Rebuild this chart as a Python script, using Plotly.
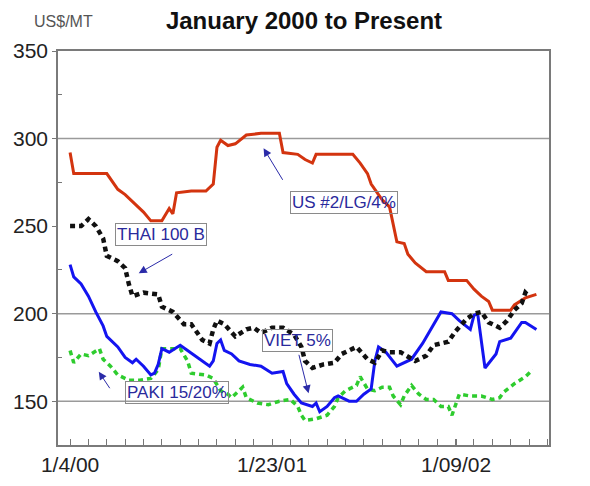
import numpy as np
import pandas as pd
import plotly.graph_objects as go

START = pd.Timestamp("2000-01-04")

# week offsets from 1/4/00 and prices (US$/MT)
us_weeks = [0,1,10,13,15,17,20,22,25,27,28,29,33,37,39,40,41,43,45,48,52,57,58,62,64,66,67,77,79,81,
            82,84,85,87,88,89,91,92,94,97,102,103,108,110,112,114,115,120,121,123,124,127]
us_vals = [292,280,280,271,268,264,258,253,253,260,257,269,270,270,274,295,299,296,297,302,303,303,292,291,288,286,291,291,286,280,
           274,268,265,261,250,241,240,234,229,224,224,219,219,214,210,207,202,202,205,208,209,211]

thai_weeks = [0,3,5,7,9,10,13,15,16,17,20,24,25,28,31,33,36,38,39,40,42,45,48,50,52,55,58,61,63,64,
              66,69,72,74,78,81,83,85,87,90,94,97,99,103,105,108,110,112,114,117,119,121,123,124,125]
thai_vals = [250,250,254,250,243,233,230,226,217,210,212,211,204,201,194,194,185,183,191,196,194,187,191,192,189,192,192,188,181,173,
             169,171,172,177,181,174,172,179,178,178,173,176,182,184,190,197,200,201,195,192,196,202,206,212,210]

viet_weeks = [0,1,3,5,7,9,10,13,15,17,18,20,22,23,24,25,27,30,32,34,36,38,39,40,41,42,44,46,49,52,
              55,58,59,61,63,66,67,68,70,72,73,76,78,80,82,83,84,86,89,92,93,96,99,101,104,106,109,110,111,113,
              116,117,120,123,124,127]
viet_vals = [228,221,217,210,201,193,187,181,175,172,174,170,165,166,171,180,178,182,179,176,173,170,173,183,185,179,177,173,171,170,
             166,167,160,154,149,147,149,144,147,152,153,150,150,154,157,173,181,178,170,173,174,183,194,201,200,196,191,199,200,169,
             177,184,186,195,195,191]

paki_weeks = [0,1,3,5,8,9,11,13,16,19,22,24,25,30,32,33,37,39,41,43,44,47,48,51,54,57,60,62,63,64,
              67,70,72,73,75,78,79,81,83,85,87,88,90,91,93,95,97,99,101,103,104,106,109,112,115,117,118,121,124,126]
paki_vals = [179,172,177,176,180,174,170,165,162,162,163,168,180,180,173,166,165,163,156,154,152,158,152,149,148,150,151,147,142,139,
             140,142,147,152,156,159,164,157,156,158,158,153,148,153,159,154,151,151,147,147,142,154,153,153,151,152,155,160,164,168]

x_tick_vals = ["2000-01-04", "2001-01-23", "2002-01-09"]
x_tick_text = ["1/4/00", "1/23/01", "1/09/02"]
y_tick_vals = [150, 200, 250, 300, 350]
grid_vals = [150, 200, 300]

labels = ["THAI 100 B", "US #2/LG/4%", "VIET 5%", "PAKI 15/20%"]

FONT = "Liberation Sans, Arial, sans-serif"
W, H = 580, 476
L, R, T, B = 50, 39, 43, 39


def dates(weeks):
    return START + pd.to_timedelta(np.array(weeks) * 7, unit="D")


fig = go.Figure()
fig.add_trace(go.Scatter(x=dates(paki_weeks), y=paki_vals, mode="lines",
                         line=dict(color="#2ecc2e", width=3.5, dash="5px,4px"), name="PAKI"))
fig.add_trace(go.Scatter(x=dates(viet_weeks), y=viet_vals, mode="lines",
                         line=dict(color="#1414f0", width=3), name="VIET"))
fig.add_trace(go.Scatter(x=dates(us_weeks), y=us_vals, mode="lines",
                         line=dict(color="#d3340f", width=3), name="US"))
fig.add_trace(go.Scatter(x=dates(thai_weeks), y=thai_vals, mode="lines",
                         line=dict(color="#111111", width=4.5, dash="5px,4px"), name="THAI"))

for g in grid_vals:
    fig.add_shape(type="line", xref="paper", x0=0, x1=1, yref="y", y0=g, y1=g,
                  line=dict(color="#9a9a9a", width=1.5), layer="below")

ann_font = dict(family=FONT, size=17, color="#2a2a9c")
boxes = [(0.2106, 0.533), (0.5815, 0.6155), (0.4883, 0.264), (0.2425, 0.1332)]
arrows = [(0.1644, 0.4358, 35, -20), (0.4187, 0.7530, 20, 33), (0.5103, 0.1312, -10, -40), (0.0830, 0.1860, 12, 18)]
for (bx, by), txt in zip(boxes, labels):
    fig.add_annotation(x=bx, y=by, xref="paper", yref="paper", text=txt, showarrow=False,
                       font=ann_font, bordercolor="#8a8a8a", borderwidth=1, borderpad=1,
                       xanchor="center", yanchor="middle")
for hx, hy, ax, ay in arrows:
    fig.add_annotation(x=hx, y=hy, xref="paper", yref="paper", text="", showarrow=True,
                       ax=ax, ay=ay, arrowhead=2, arrowsize=1.6, arrowwidth=1, arrowcolor="#2a2aa8")

plot_w = W - L - R
plot_h = H - T - B
fig.add_annotation(x=(24 - L) / plot_w, y=(H - B - 14) / plot_h, xref="paper", yref="paper",
                   text="US$/MT", showarrow=False, xanchor="left", yanchor="middle",
                   font=dict(family=FONT, size=16, color="#555555"))

fig.update_layout(
    width=W, height=H,
    margin=dict(l=L, r=R, t=T, b=B, autoexpand=False),
    paper_bgcolor="white", plot_bgcolor="white",
    showlegend=False,
    title=dict(text="<b>January 2000 to Present</b>", x=296 / W, xanchor="center",
               y=1 - 4 / H, yanchor="top",
               font=dict(family=FONT, size=24, color="#111111")),
    xaxis=dict(type="date", range=["1999-12-12", "2002-07-05"], automargin=False,
               tickmode="array", tickvals=x_tick_vals, ticktext=x_tick_text,
               ticks="inside", ticklen=6, tickcolor="#777777", showgrid=False,
               showline=True, linecolor="#7a7a7a", linewidth=1.5, mirror=True, zeroline=False,
               tickfont=dict(family=FONT, size=21, color="#222222"),
               minor=dict(tick0="2000-01-04", dtick=35 * 86400000, ticks="inside", ticklen=6,
                          tickcolor="#777777", showgrid=False)),
    yaxis=dict(range=[125, 350], tickmode="array", tickvals=y_tick_vals, automargin=False,
               ticks="outside", ticklen=4, tickcolor="#777777", showgrid=False,
               showline=True, linecolor="#7a7a7a", linewidth=1.5, mirror=True, zeroline=False,
               tickfont=dict(family=FONT, size=21, color="#222222"),
               minor=dict(tick0=175, dtick=50, ticks="inside", ticklen=4, tickcolor="#777777", showgrid=False)),
)

fig.write_html("out.html")
